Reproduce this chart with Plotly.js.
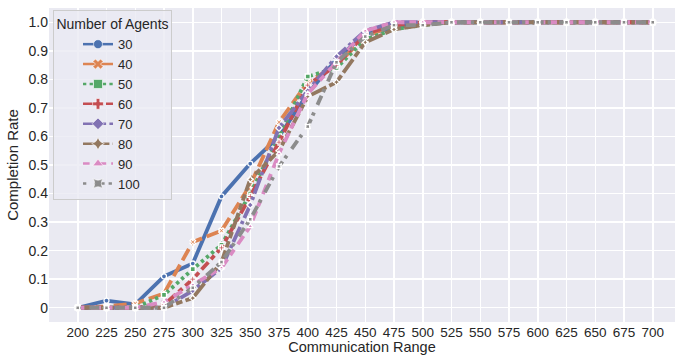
<!DOCTYPE html>
<html>
<head>
<meta charset="utf-8">
<script src="https://cdn.plot.ly/plotly-3.0.1.min.js"></script>
<style>
html,body{margin:0;padding:0;background:#fff;overflow:hidden;}
#chart{width:675px;height:355px;}
</style>
</head>
<body>
<div id="chart"></div>
<script>
// Communication range (x)
const ranges = [200,225,250,275,300,325,350,375,400,425,450,475,500,525,550,575,600,625,650,675,700];
// Completion rate per number of agents
const agents30  = [0,0.025,0.012,0.11,0.155,0.39,0.505,0.60,0.75,0.87,0.96,0.98,1,1,1,1,1,1,1,1,1];
const agents40  = [0,0.005,0.015,0.05,0.23,0.27,0.43,0.65,0.79,0.85,0.95,0.99,1,1,1,1,1,1,1,1,1];
const agents50  = [0,0,0,0.045,0.135,0.22,0.40,0.60,0.81,0.84,0.94,0.975,0.99,1,1,1,1,1,1,1,1];
const agents60  = [0,0,0,0.01,0.10,0.21,0.39,0.58,0.78,0.85,0.96,0.99,1,1,1,1,1,1,1,1,1];
const agents70  = [0,0,0,0,0.06,0.14,0.36,0.63,0.76,0.88,0.97,1,1,1,1,1,1,1,1,1,1];
const agents80  = [0,0,0,0,0.034,0.16,0.45,0.55,0.74,0.79,0.93,0.975,0.99,1,1,1,1,1,1,1,1];
const agents90  = [0,0,0,0.02,0.08,0.14,0.285,0.54,0.75,0.86,0.97,1,1,1,1,1,1,1,1,1,1];
const agents100 = [0,0,0,0,0.07,0.16,0.31,0.495,0.635,0.86,0.95,0.99,0.99,1,1,1,1,1,1,1,1];

const seriesNames = ['30','40','50','60','70','80','90','100'];
const seriesData = [agents30,agents40,agents50,agents60,agents70,agents80,agents90,agents100];

const xTicks = [200,225,250,275,300,325,350,375,400,425,450,475,500,525,550,575,600,625,650,675,700];
const yTicks = [0,0.1,0.2,0.3,0.4,0.5,0.6,0.7,0.8,0.9,1.0];
const yTickText = ['0','0.1','0.2','0.3','0.4','0.5','0.6','0.7','0.8','0.9','1.0'];

const colors = ['#4C72B0','#DD8452','#55A868','#C44E52','#8172B3','#937860','#DA8BC3','#8C8C8C'];
const dashes = ['solid','13px,5px','3.3px,3.3px','10px,4px,5px,4px','16.5px,3.3px,3.3px,3.3px',
  '16.5px,3.3px,6.6px,3.3px,6.6px,3.3px','6.6px,6.6px,10px,5px','3.3px,8.3px,10px,4px'];
const symbols = ['circle','x','square','cross','diamond','star-diamond','triangle-up','star-square'];

const traces = [];
seriesData.forEach((ys,i)=>{
  traces.push({
    x: ranges, y: ys, type:'scatter', mode:'lines+markers',
    name: seriesNames[i], showlegend:false,
    line:{color:colors[i], width:3.8, dash:dashes[i]},
    marker:{symbol:symbols[i], size:5, color:colors[i], line:{color:'#ffffff', width:1.3}}
  });
});
// legend entries (no data)
seriesData.forEach((ys,i)=>{
  traces.push({
    x:[null], y:[null], type:'scatter', mode:'lines+markers',
    name: seriesNames[i], showlegend:true,
    line:{color:colors[i], width:2.5, dash:dashes[i]},
    marker:{symbol:symbols[i], size:9, color:colors[i], line:{color:'#ffffff', width:0.6}}
  });
});

const fontFam = 'Liberation Sans, Arial, sans-serif';
const layout = {
  width:675, height:355,
  margin:{l:49, r:0, t:8, b:33},
  paper_bgcolor:'#ffffff',
  plot_bgcolor:'#EAEAF2',
  font:{family:fontFam, size:14, color:'#262626'},
  xaxis:{
    range:[175,719.35], tickvals:xTicks, ticktext:xTicks.map(String),
    showgrid:true, gridcolor:'#ffffff', gridwidth:1.5, zeroline:false,
    showline:false, ticks:'', tickfont:{size:13.5, color:'#262626'},
    title:{text:'Communication Range', font:{size:14.5, color:'#262626'}, standoff:0}
  },
  yaxis:{
    range:[-0.05,1.05], tickvals:yTicks, ticktext:yTickText,
    showgrid:true, gridcolor:'#ffffff', gridwidth:1.5, zeroline:false,
    showline:false, ticks:'', tickfont:{size:14, color:'#262626'},
    title:{text:'Completion Rate', font:{size:15, color:'#262626'}, standoff:6}
  },
  legend:{
    x:0.0064, y:0.9936, xanchor:'left', yanchor:'top',
    bgcolor:'rgba(234,234,242,0.8)', bordercolor:'#cccccc', borderwidth:1,
    font:{size:13, color:'#262626'}, indentation:24,
    title:{text:'Number of Agents', side:'top center', font:{size:14, color:'#262626'}}
  },
  showlegend:true
};
Plotly.newPlot('chart', traces, layout, {displayModeBar:false, staticPlot:true});
</script>
</body>
</html>
